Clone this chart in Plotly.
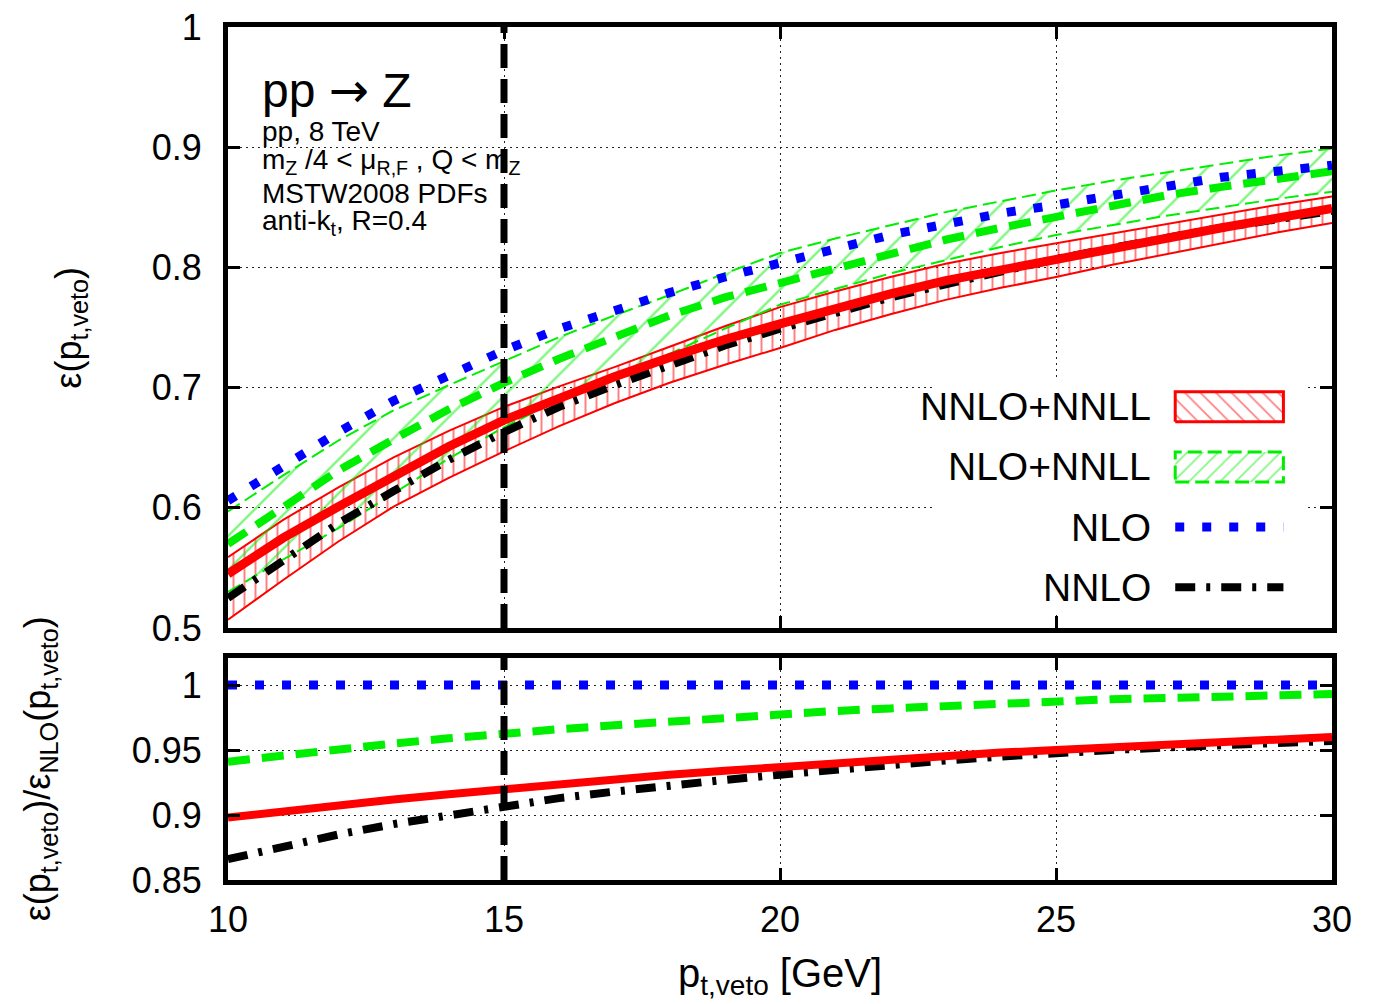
import plotly.graph_objects as go

# ---------------- data ----------------
pt_veto = [10, 11, 12, 13, 14, 15, 16, 17, 18, 19, 20, 21, 22, 23, 24, 25, 26, 27, 28, 29, 30]

eff_nlo = [0.606, 0.635, 0.663, 0.689, 0.711, 0.731, 0.749, 0.764, 0.779, 0.792, 0.804,
           0.816, 0.827, 0.836, 0.845, 0.852, 0.860, 0.868, 0.875, 0.880, 0.885]
eff_nnlo = [0.525, 0.556, 0.587, 0.614, 0.640, 0.663, 0.684, 0.702, 0.719, 0.735, 0.749,
            0.762, 0.775, 0.786, 0.797, 0.807, 0.816, 0.825, 0.833, 0.840, 0.847]
eff_nnlo_nnll = [0.545, 0.575, 0.601, 0.627, 0.651, 0.673, 0.692, 0.709, 0.725, 0.740, 0.753,
                 0.766, 0.778, 0.789, 0.798, 0.807, 0.816, 0.825, 0.833, 0.841, 0.849]
eff_nnlo_nnll_lo = [0.507, 0.540, 0.572, 0.601, 0.625, 0.647, 0.668, 0.687, 0.704, 0.719, 0.733,
                    0.748, 0.761, 0.773, 0.783, 0.792, 0.802, 0.811, 0.820, 0.829, 0.837]
eff_nnlo_nnll_hi = [0.559, 0.590, 0.617, 0.642, 0.664, 0.684, 0.701, 0.717, 0.734, 0.751, 0.767,
                    0.780, 0.792, 0.803, 0.812, 0.820, 0.828, 0.836, 0.844, 0.852, 0.859]
eff_nlo_nnll = [0.570, 0.601, 0.631, 0.657, 0.682, 0.704, 0.724, 0.742, 0.760, 0.775, 0.787,
                0.800, 0.812, 0.823, 0.833, 0.842, 0.851, 0.860, 0.867, 0.874, 0.880]
eff_nlo_nnll_lo = [0.530, 0.557, 0.583, 0.612, 0.641, 0.667, 0.690, 0.710, 0.728, 0.749, 0.769,
                   0.782, 0.795, 0.806, 0.817, 0.827, 0.835, 0.843, 0.850, 0.857, 0.863]
eff_nlo_nnll_hi = [0.597, 0.627, 0.656, 0.681, 0.702, 0.722, 0.742, 0.760, 0.777, 0.795, 0.812,
                   0.824, 0.835, 0.846, 0.855, 0.864, 0.872, 0.879, 0.886, 0.893, 0.899]

ratio_nlo = [1.0, 1.0, 1.0, 1.0, 1.0, 1.0, 1.0, 1.0, 1.0, 1.0, 1.0,
             1.0, 1.0, 1.0, 1.0, 1.0, 1.0, 1.0, 1.0, 1.0, 1.0]
ratio_nlo_nnll = [0.941, 0.946, 0.951, 0.955, 0.959, 0.963, 0.966, 0.969, 0.972, 0.975, 0.978,
                  0.980, 0.982, 0.984, 0.986, 0.988, 0.989, 0.990, 0.991, 0.992, 0.993]
ratio_nnlo_nnll = [0.898, 0.903, 0.907, 0.912, 0.916, 0.920, 0.924, 0.928, 0.931, 0.934, 0.937,
                   0.940, 0.943, 0.945, 0.948, 0.950, 0.952, 0.954, 0.956, 0.958, 0.960]
ratio_nnlo = [0.866, 0.876, 0.885, 0.893, 0.900, 0.907, 0.913, 0.918, 0.923, 0.927, 0.931,
              0.935, 0.939, 0.942, 0.945, 0.948, 0.950, 0.952, 0.954, 0.956, 0.957]

veto_cut = 15
x_ticks = [10, 15, 20, 25, 30]
x_ticktext = ["10", "15", "20", "25", "30"]
top_yticks = [0.5, 0.6, 0.7, 0.8, 0.9, 1.0]
top_yticktext = ["0.5", "0.6", "0.7", "0.8", "0.9", "1"]
bot_yticks = [0.85, 0.9, 0.95, 1.0]
bot_yticktext = ["0.85", "0.9", "0.95", "1"]

legend_labels = ["NNLO+NNLL", "NLO+NNLL", "NLO", "NNLO"]

# ---------------- styles ----------------
RED = "#ff0000"
GREEN = "#00ee00"
BLUE = "#0000ff"
BLACK = "#000000"
FONT = "Liberation Sans, Arial, sans-serif"

blue_dot = dict(color=BLUE, width=9, dash="9px,18px")
green_dash = dict(color=GREEN, width=8, dash="22px,12px")
black_dd = dict(color=BLACK, width=8, dash="20px,11px,4px,11px")
red_solid = dict(color=RED, width=9)

fig = go.Figure()

# ---- top panel: bands ----
fig.add_trace(go.Scatter(x=pt_veto, y=eff_nnlo_nnll_lo, mode="lines",
                         line=dict(color=RED, width=2), xaxis="x", yaxis="y",
                         showlegend=False, hoverinfo="skip"))
fig.add_trace(go.Scatter(x=pt_veto, y=eff_nnlo_nnll_hi, mode="lines",
                         line=dict(color=RED, width=2), fill="tonexty",
                         fillcolor="rgba(0,0,0,0)",
                         fillpattern=dict(shape="|", fgcolor=RED, bgcolor="rgba(0,0,0,0)",
                                          size=11, solidity=0.18),
                         xaxis="x", yaxis="y", showlegend=False, hoverinfo="skip"))
fig.add_trace(go.Scatter(x=pt_veto, y=eff_nlo_nnll_lo, mode="lines",
                         line=dict(color=GREEN, width=2, dash="14px,6px"), xaxis="x", yaxis="y",
                         showlegend=False, hoverinfo="skip"))
fig.add_trace(go.Scatter(x=pt_veto, y=eff_nlo_nnll_hi, mode="lines",
                         line=dict(color=GREEN, width=2, dash="14px,6px"), fill="tonexty",
                         fillcolor="rgba(0,0,0,0)",
                         fillpattern=dict(shape="/", fgcolor=GREEN, bgcolor="rgba(0,0,0,0)",
                                          size=24, solidity=0.1),
                         xaxis="x", yaxis="y", showlegend=False, hoverinfo="skip"))

# ---- top panel: central lines ----
fig.add_trace(go.Scatter(x=pt_veto, y=eff_nnlo, mode="lines", line=black_dd,
                         xaxis="x", yaxis="y", showlegend=False))
fig.add_trace(go.Scatter(x=pt_veto, y=eff_nlo_nnll, mode="lines", line=green_dash,
                         xaxis="x", yaxis="y", showlegend=False))
fig.add_trace(go.Scatter(x=pt_veto, y=eff_nnlo_nnll, mode="lines", line=red_solid,
                         xaxis="x", yaxis="y", showlegend=False))
fig.add_trace(go.Scatter(x=pt_veto, y=eff_nlo, mode="lines", line=blue_dot,
                         xaxis="x", yaxis="y", showlegend=False))

# ---- bottom panel: ratios ----
fig.add_trace(go.Scatter(x=pt_veto, y=ratio_nnlo, mode="lines", line=black_dd,
                         xaxis="x2", yaxis="y2", showlegend=False))
fig.add_trace(go.Scatter(x=pt_veto, y=ratio_nlo_nnll, mode="lines", line=green_dash,
                         xaxis="x2", yaxis="y2", showlegend=False))
fig.add_trace(go.Scatter(x=pt_veto, y=ratio_nnlo_nnll, mode="lines",
                         line=dict(color=RED, width=8), xaxis="x2", yaxis="y2", showlegend=False))
fig.add_trace(go.Scatter(x=pt_veto, y=ratio_nlo, mode="lines", line=blue_dot,
                         xaxis="x2", yaxis="y2", showlegend=False))

# ---- veto cut lines ----
veto_line = dict(color=BLACK, width=7, dash="24px,11px")
fig.add_trace(go.Scatter(x=[veto_cut, veto_cut], y=[0.5, 1.0], mode="lines", line=veto_line,
                         xaxis="x", yaxis="y", showlegend=False))
fig.add_trace(go.Scatter(x=[veto_cut, veto_cut], y=[0.85, 1.0208], mode="lines", line=veto_line,
                         xaxis="x2", yaxis="y2", showlegend=False))

# ---- legend (drawn on an overlay axis in [0,1] units of the top panel) ----
box_x0, box_x1, box_y0, box_y1 = 0.640, 0.977, 0.022, 0.416
fig.add_trace(go.Scatter(x=[box_x0, box_x1, box_x1, box_x0, box_x0],
                         y=[box_y0, box_y0, box_y1, box_y1, box_y0],
                         mode="lines", line=dict(width=0, color="white"), fill="toself",
                         fillcolor="white", xaxis="x3", yaxis="y3", showlegend=False,
                         hoverinfo="skip"))
lx0, lx1 = 0.858, 0.956
row_y = [0.368, 0.268, 0.168, 0.068]
bh = 0.025
fig.add_trace(go.Scatter(x=[lx0, lx1, lx1, lx0, lx0],
                         y=[row_y[0] - bh, row_y[0] - bh, row_y[0] + bh, row_y[0] + bh, row_y[0] - bh],
                         mode="lines", line=dict(color=RED, width=3), fill="toself",
                         fillcolor="rgba(0,0,0,0)",
                         fillpattern=dict(shape="\\", fgcolor=RED, bgcolor="rgba(0,0,0,0)",
                                          size=11, solidity=0.15),
                         xaxis="x3", yaxis="y3", showlegend=False, hoverinfo="skip"))
fig.add_trace(go.Scatter(x=[lx0, lx1, lx1, lx0, lx0],
                         y=[row_y[1] - bh, row_y[1] - bh, row_y[1] + bh, row_y[1] + bh, row_y[1] - bh],
                         mode="lines", line=dict(color=GREEN, width=3, dash="14px,6px"), fill="toself",
                         fillcolor="rgba(0,0,0,0)",
                         fillpattern=dict(shape="/", fgcolor=GREEN, bgcolor="rgba(0,0,0,0)",
                                          size=11, solidity=0.15),
                         xaxis="x3", yaxis="y3", showlegend=False, hoverinfo="skip"))
fig.add_trace(go.Scatter(x=[lx0, lx1], y=[row_y[2], row_y[2]], mode="lines", line=blue_dot,
                         xaxis="x3", yaxis="y3", showlegend=False, hoverinfo="skip"))
fig.add_trace(go.Scatter(x=[lx0, lx1], y=[row_y[3], row_y[3]], mode="lines", line=black_dd,
                         xaxis="x3", yaxis="y3", showlegend=False, hoverinfo="skip"))

axis_common = dict(
    showline=True, linewidth=5, linecolor=BLACK, mirror="allticks",
    ticks="inside", ticklen=12, tickwidth=3, tickcolor=BLACK, automargin=False,
    showgrid=True, gridcolor="#222222", gridwidth=1.2, griddash="2px,4px",
    zeroline=False, tickfont=dict(family=FONT, size=36, color=BLACK),
)

top_dom = [0.2954, 1.0]
bot_dom = [0.0, 0.2603]

fig.update_layout(
    width=1384, height=1004,
    margin=dict(l=228, r=52, t=27, b=124, autoexpand=False),
    paper_bgcolor="white", plot_bgcolor="white",
    font=dict(family=FONT, color=BLACK),
    xaxis=dict(axis_common, domain=[0, 1], range=[10, 30], tickvals=x_ticks,
               showticklabels=False, anchor="y"),
    yaxis=dict(axis_common, domain=top_dom, range=[0.5, 1.0], tickvals=top_yticks,
               ticktext=top_yticktext, anchor="x", ticklabelstandoff=14),
    xaxis2=dict(axis_common, domain=[0, 1], range=[10, 30], tickvals=x_ticks,
                ticktext=x_ticktext, anchor="y2", ticklabelstandoff=4),
    yaxis2=dict(axis_common, domain=bot_dom, range=[0.85, 1.0208], tickvals=bot_yticks,
                ticktext=bot_yticktext, anchor="x2", ticklabelstandoff=14),
    xaxis3=dict(overlaying="x", range=[0, 1], visible=False, anchor="y3", automargin=False),
    yaxis3=dict(overlaying="y", range=[0, 1], visible=False, anchor="x3", automargin=False),
)

ann = []
for lab, yy in zip(legend_labels, row_y):
    ann.append(dict(text=lab, xref="x3", yref="y3", x=0.838, y=yy, xanchor="right",
                    yanchor="middle", showarrow=False, font=dict(size=39, family=FONT)))

# info text
ann.append(dict(text="pp <span style=\"font-family:DejaVu Sans\">→</span> Z", xref="paper",
                yref="paper", x=0.029, y=0.926,
                xanchor="left", yanchor="middle", showarrow=False, font=dict(size=48, family=FONT)))
info_lines = ["pp, 8 TeV",
              "m<sub>Z</sub> /4 &lt; μ<sub>R,F</sub> , Q &lt; m<sub>Z</sub>",
              "MSTW2008 PDFs",
              "anti-k<sub>t</sub>, R=0.4"]
info_y = [0.878, 0.842, 0.805, 0.771]
for t, yy in zip(info_lines, info_y):
    ann.append(dict(text=t, xref="paper", yref="paper", x=0.029, y=yy, xanchor="left",
                    yanchor="middle", showarrow=False, font=dict(size=28, family=FONT)))

# axis titles
ann.append(dict(text="ε(p<sub>t,veto</sub>)", xref="paper", yref="paper", x=-0.143,
                y=(top_dom[0] + top_dom[1]) / 2, xanchor="center", yanchor="middle",
                textangle=-90, showarrow=False, font=dict(size=36, family=FONT)))
ann.append(dict(text="ε(p<sub>t,veto</sub>)/ε<sub>NLO</sub>(p<sub>t,veto</sub>)", xref="paper",
                yref="paper", x=-0.170, y=(bot_dom[0] + bot_dom[1]) / 2, xanchor="center",
                yanchor="middle", textangle=-90, showarrow=False,
                font=dict(size=36, family=FONT)))
ann.append(dict(text="p<sub>t,veto</sub> [GeV]", xref="paper", yref="paper", x=0.5, y=-0.112,
                xanchor="center", yanchor="middle", showarrow=False,
                font=dict(size=40, family=FONT)))

fig.update_layout(annotations=ann)

fig.write_html("out.html")
